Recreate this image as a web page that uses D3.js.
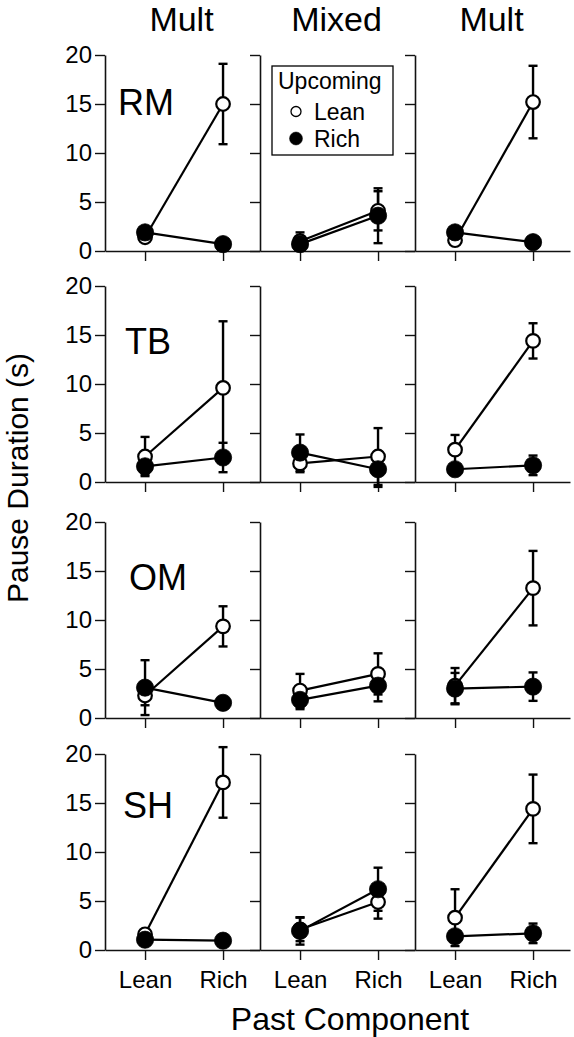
<!DOCTYPE html>
<html>
<head>
<meta charset="utf-8">
<script src="https://cdn.jsdelivr.net/npm/d3@7"></script>
<style>
  html, body { margin: 0; padding: 0; background: #fff; }
  svg { display: block; }
  text { font-family: "Liberation Sans", Arial, sans-serif; fill: #000; }
</style>
</head>
<body>
<div id="chart"></div>
<script>
// ---------------- DATA ----------------
const subjects = ["RM", "TB", "OM", "SH"];
const conditions = ["Mult", "Mixed", "Mult"];
const pastComponent = ["Lean", "Rich"];
const yTickValues = [0, 5, 10, 15, 20];
const legendTitle = "Upcoming";
const seriesNames = ["Lean", "Rich"];

// Upcoming Lean (open circles): [subject][condition] -> [past Lean, past Rich]
const leanMean = [
  [[1.4, 15.0], [1.0, 4.1], [1.1, 15.2]],
  [[2.6, 9.6],  [1.9, 2.6], [3.3, 14.4]],
  [[2.3, 9.35], [2.8, 4.5], [3.3, 13.25]],
  [[1.6, 17.1], [2.1, 4.9], [3.3, 14.4]]
];
const leanSem = [
  [[0.3, 4.1], [0.9, 2.0], [0.3, 3.7]],
  [[2.0, 6.8], [0.9, 2.9], [1.5, 1.8]],
  [[1.0, 2.05], [1.7, 2.1], [1.8, 3.8]],
  [[0.4, 3.6], [1.2, 1.7], [2.9, 3.5]]
];
// Upcoming Rich (filled circles)
const richMean = [
  [[1.9, 0.7],  [0.7, 3.6], [1.9, 0.9]],
  [[1.6, 2.5],  [3.0, 1.3], [1.3, 1.7]],
  [[3.1, 1.55], [1.85, 3.3], [3.0, 3.2]],
  [[1.05, 0.95], [1.95, 6.2], [1.4, 1.7]]
];
const richSem = [
  [[0.3, 0.2], [0.5, 2.8], [0.3, 0.2]],
  [[0.8, 1.5], [1.85, 1.8], [0.5, 1.0]],
  [[2.8, 0.6], [0.95, 1.6], [1.6, 1.45]],
  [[0.2, 0.2], [1.4, 2.2], [0.6, 1.0]]
];

// ---------------- LAYOUT ----------------
const W = 574, H = 1037;
const colLeft = [105, 260, 415];
const panelW = 155;
const rowTop = [55, 286, 522, 754];
const panelH = 196;
const FONT_TICK = 24;
const labelDx = [13, 20, 24, 18];
const labelDy = [60, 68, 68, 64];

const svg = d3.select("#chart").append("svg")
  .attr("width", W).attr("height", H);

const x = d3.scalePoint().domain(pastComponent).range([0, panelW]).padding(0.4936).align(0.52);
const y = d3.scaleLinear().domain([0, 20]).range([panelH, 0]);

const series = [
  { mean: leanMean, sem: leanSem, open: true },
  { mean: richMean, sem: richSem, open: false }
];

subjects.forEach((subj, r) => {
  conditions.forEach((cond, c) => {
    const g = svg.append("g").attr("transform", `translate(${colLeft[c]},${rowTop[r]})`);

    // axes
    const ya = d3.axisLeft(y).tickValues(yTickValues).tickSize(10).tickSizeOuter(0).tickPadding(3);
    if (c > 0) ya.tickFormat("");
    const yg = g.append("g").call(ya);
    yg.selectAll("text").attr("font-size", FONT_TICK).style("font-family", '"Liberation Sans", Arial, sans-serif').attr("fill", "#000");

    const xa = d3.axisBottom(x).tickSize(10).tickSizeOuter(0).tickPadding(11);
    if (r < subjects.length - 1) xa.tickFormat("");
    const xg = g.append("g").attr("transform", `translate(0,${panelH})`).call(xa);
    xg.selectAll("text").attr("font-size", FONT_TICK).style("font-family", '"Liberation Sans", Arial, sans-serif').attr("fill", "#000");

    [yg, xg].forEach(a => {
      a.select(".domain").attr("stroke", "#111").attr("stroke-width", 1.6);
      a.selectAll(".tick line").attr("stroke", "#111").attr("stroke-width", 1.4);
    });

    const pts = series.map(s => pastComponent.map((p, i) => ({
      cat: p, m: s.mean[r][c][i], e: s.sem[r][c][i], open: s.open
    })));

    const line = d3.line().x(d => x(d.cat)).y(d => y(d.m));
    pts.forEach(ps => {
      g.append("path").attr("d", line(ps))
        .attr("fill", "none").attr("stroke", "#000").attr("stroke-width", 2.2);
    });

    // error bars
    pts.forEach(ps => {
      ps.forEach(d => {
        const cx = x(d.cat);
        const y1 = y(d.m - d.e), y2 = y(d.m + d.e);
        const eb = g.append("g").attr("stroke", "#000").attr("stroke-width", 2.4);
        eb.append("line").attr("x1", cx).attr("x2", cx).attr("y1", y1).attr("y2", y2);
        eb.append("line").attr("x1", cx - 4.5).attr("x2", cx + 4.5).attr("y1", y1).attr("y2", y1);
        eb.append("line").attr("x1", cx - 4.5).attr("x2", cx + 4.5).attr("y1", y2).attr("y2", y2);
      });
    });

    // markers: open first, filled on top
    pts.forEach(ps => {
      g.selectAll(null).data(ps).enter().append("circle")
        .attr("cx", d => x(d.cat)).attr("cy", d => y(d.m))
        .attr("r", d => d.open ? 6.8 : 8.6)
        .attr("fill", d => d.open ? "#fff" : "#000")
        .attr("stroke", "#000")
        .attr("stroke-width", d => d.open ? 2.2 : 0.8);
    });

    // subject label
    if (c === 0) {
      g.append("text").attr("x", labelDx[r]).attr("y", labelDy[r])
        .attr("font-size", 36).text(subj);
    }

    // column title
    if (r === 0) {
      svg.append("text").attr("x", colLeft[c] + panelW / 2 - 1).attr("y", 31)
        .attr("text-anchor", "middle").attr("font-size", 34).text(cond);
    }

    // legend
    if (r === 0 && c === 1) {
      const lg = g.append("g").attr("transform", "translate(12,11)");
      lg.append("rect").attr("x", 0).attr("y", 0).attr("width", 121).attr("height", 89)
        .attr("fill", "#fff").attr("stroke", "#000").attr("stroke-width", 1.3);
      lg.append("text").attr("x", 6).attr("y", 23).attr("font-size", 23).text(legendTitle);
      seriesNames.forEach((nm, i) => {
        const yy = 46 + i * 27;
        lg.append("circle").attr("cx", 24).attr("cy", yy - 0.5)
          .attr("r", i === 0 ? 5 : 6.5)
          .attr("fill", i === 0 ? "#fff" : "#000")
          .attr("stroke", "#000").attr("stroke-width", i === 0 ? 1.3 : 0.5);
        lg.append("text").attr("x", 42).attr("y", yy + 8).attr("font-size", 23).text(nm);
      });
    }
  });
});

// axis titles
svg.append("text")
  .attr("transform", "translate(28,478) rotate(-90)")
  .attr("text-anchor", "middle").attr("font-size", 30).text("Pause Duration (s)");
svg.append("text")
  .attr("x", 350).attr("y", 1030)
  .attr("text-anchor", "middle").attr("font-size", 32).text("Past Component");
</script>
</body>
</html>
